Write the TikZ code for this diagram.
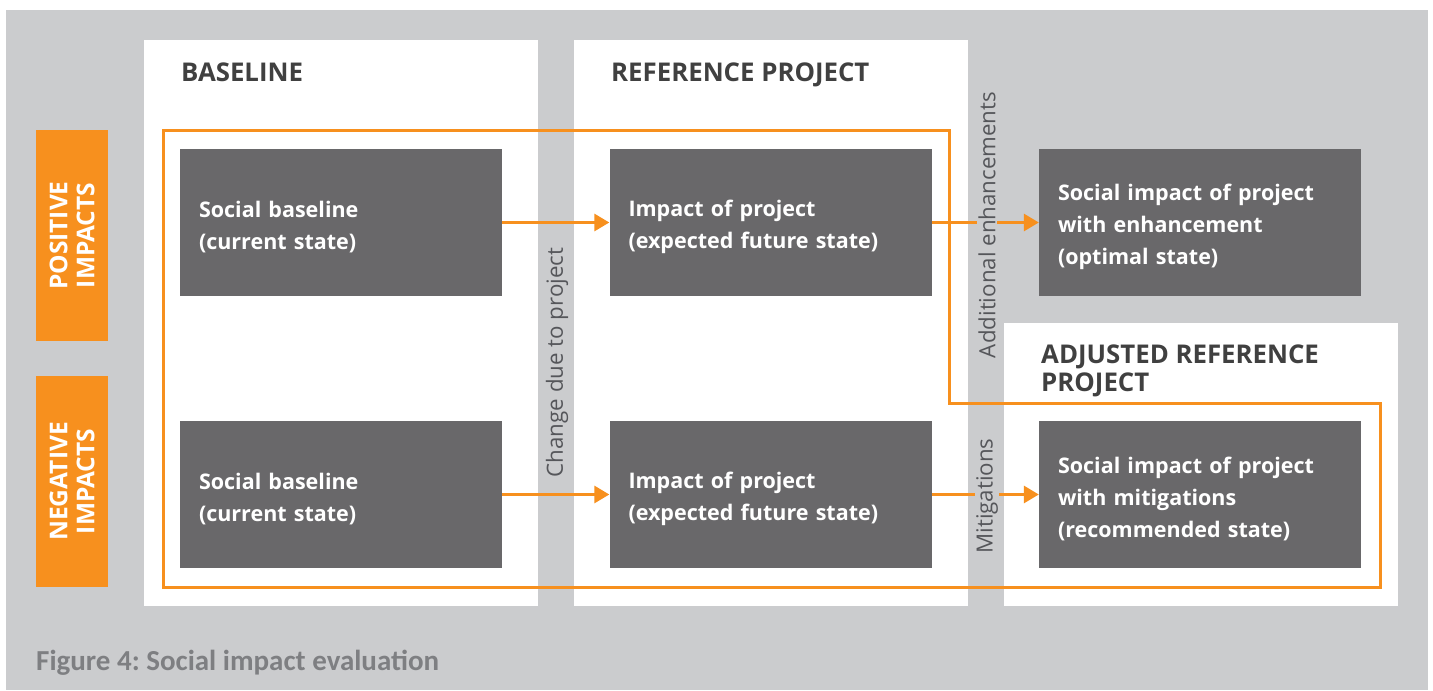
\documentclass[tikz,border=0pt]{standalone}
\usepackage{fontspec}
\setmainfont{Open Sans}
\newfontfamily\capfont{Carlito}
\usetikzlibrary{arrows.meta}
\definecolor{bggray}{HTML}{CBCCCE}
\definecolor{frameorange}{HTML}{F7901E}
\definecolor{boxgray}{HTML}{69686A}
\definecolor{headgray}{HTML}{404040}
\definecolor{labgray}{HTML}{55565A}
\definecolor{capgray}{HTML}{7E7F82}
\frenchspacing
\tikzset{
  statebox/.style={fill=boxgray,text=white,font=\bfseries\fontsize{21.5}{32}\selectfont,
    align=left,text width=284pt,text height=26pt,inner xsep=19pt,minimum width=322pt,minimum height=147pt},
  sidebox/.style={fill=frameorange,text=white,font=\bfseries\fontsize{24.5}{27}\selectfont,
    align=center,rotate=90,inner sep=0pt,minimum width=211pt,minimum height=72pt},
  heading/.style={text=headgray,font=\bfseries\fontsize{25.8}{28}\selectfont,align=left,inner sep=0pt},
  vlabel/.style={rotate=90,fill=bggray,text=labgray,font=\fontsize{22.3}{22}\selectfont,inner sep=1pt},
  flow/.style={draw=frameorange,line width=3pt,-{Triangle[length=15pt,width=17pt]}}
}
\begin{document}
\begin{tikzpicture}[x=1pt,y=-1pt]
  \useasboundingbox (0,0) rectangle (1433,691);
  \fill[white] (0,0) rectangle (1433,691);
  \fill[bggray] (6,10) rectangle (1428,690);
  \fill[white] (144,40) rectangle (538,606);
  \fill[white] (574,40) rectangle (968,606);
  \fill[white] (1004,323) rectangle (1398,606);

  \node[sidebox] (pos) at (72,235.5) {POSITIVE\\IMPACTS};
  \node[sidebox] (neg) at (72,481.5) {NEGATIVE\\IMPACTS};

  \node[heading,anchor=base west] (hbase) at (181,81) {BASELINE};
  \node[heading,anchor=base west] (href) at (611,81) {REFERENCE PROJECT};
  \node[heading,anchor=north west] (hadj) at (1041,345) {ADJUSTED REFERENCE\\PROJECT};

  \draw[frameorange,line width=3pt] (163,130) -- (949,130) -- (949,403) -- (1380,403)
    -- (1380,587) -- (163,587) -- cycle;

  \node[statebox] (sb1) at (341,222.5) {Social baseline\\(current state)};
  \node[statebox] (ip1) at (770.5,222.5) {Impact of project\\(expected future state)};
  \node[statebox] (en1) at (1200,222.5) {Social impact of project\\with enhancement\\(optimal state)};
  \node[statebox] (sb2) at (341,494.5) {Social baseline\\(current state)};
  \node[statebox] (ip2) at (770.5,494.5) {Impact of project\\(expected future state)};
  \node[statebox] (mi2) at (1200,494.5) {Social impact of project\\with mitigations\\(recommended state)};

  \draw[flow] (sb1) -- (ip1);
  \draw[flow] (ip1) -- (en1);
  \draw[flow] (sb2) -- (ip2);
  \draw[flow] (ip2) -- (mi2);

  \node[vlabel] (chg) at (557,362.5) {Change due to project};
  \node[vlabel] (add) at (987,225) {Additional enhancements};
  \node[vlabel] (mit) at (987,496) {Mitigations};

  \node[anchor=base west,inner sep=0pt,text=capgray,font=\capfont\bfseries\fontsize{29}{34}\selectfont] (cap)
    at (36,670) {Figure 4: Social impact evaluation};
\end{tikzpicture}
\end{document}
